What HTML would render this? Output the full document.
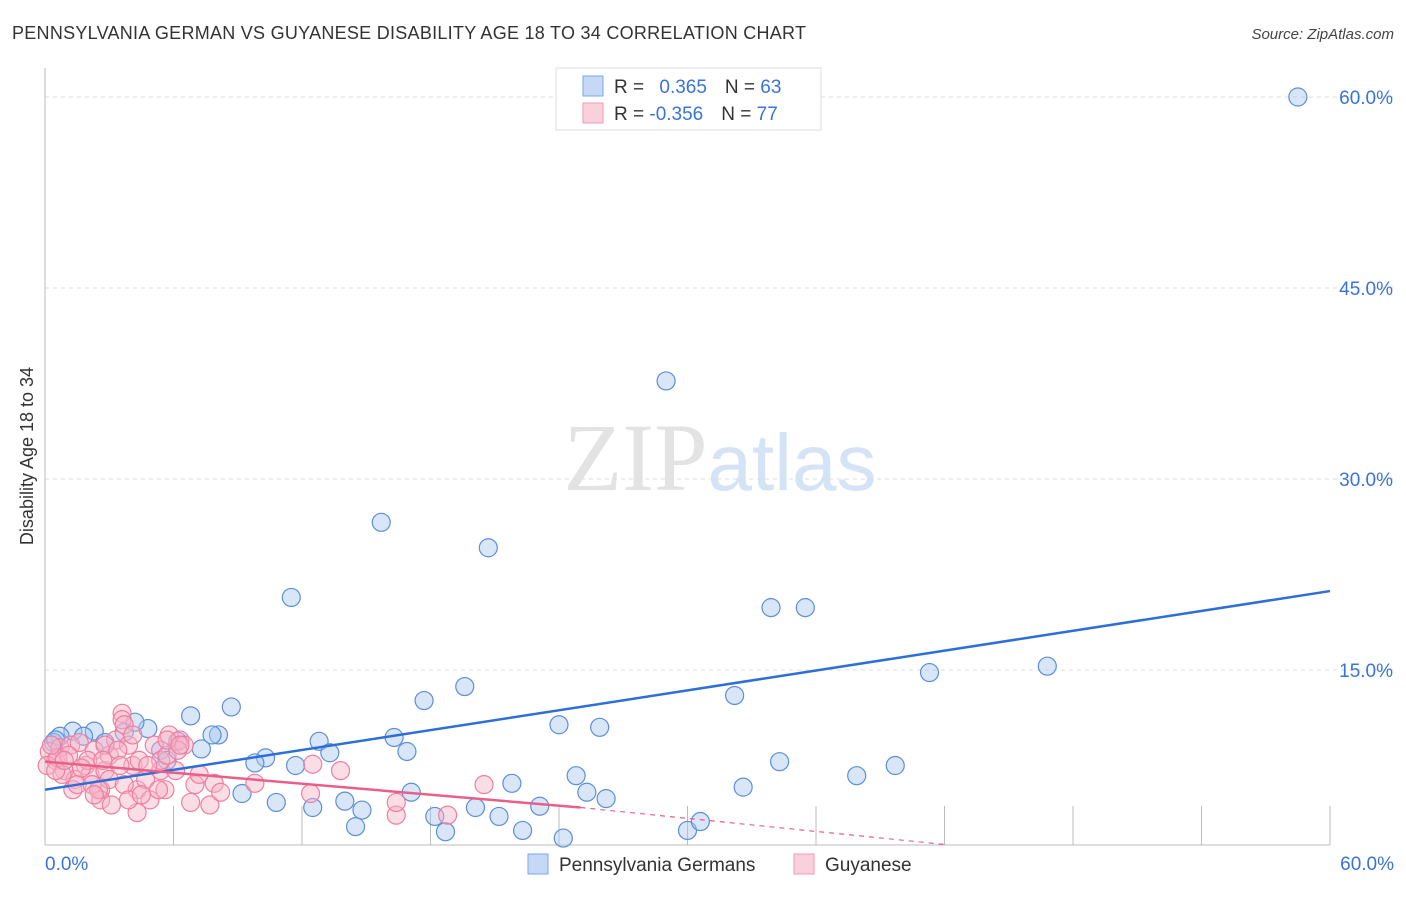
<!DOCTYPE html>
<html><head><meta charset="utf-8"><style>
body{margin:0;background:#fff;font-family:"Liberation Sans",sans-serif}
</style></head><body>
<svg id="chart" width="1406" height="892" xmlns="http://www.w3.org/2000/svg" font-family="Liberation Sans, sans-serif">
<text x="12" y="39" font-size="18" fill="#333" textLength="794">PENNSYLVANIA GERMAN VS GUYANESE DISABILITY AGE 18 TO 34 CORRELATION CHART</text>
<text x="1394" y="39" font-size="15" fill="#444" text-anchor="end" font-style="italic">Source: ZipAtlas.com</text>
<text x="720" y="490" font-size="96" text-anchor="middle" fill="#e3e3e3"><tspan font-family="Liberation Serif, serif">ZIP</tspan><tspan fill="#d4e3f5" font-size="80">atlas</tspan></text>
<text transform="translate(33,456) rotate(-90)" font-size="18" fill="#333" text-anchor="middle">Disability Age 18 to 34</text>
<g id="grid"></g><g id="axes"></g><g id="marks"></g>
<g>
<rect x="556" y="68" width="265" height="62" fill="#fff" stroke="#ddd"/>
<rect x="583" y="76" width="20" height="20" fill="#c5d9f7" stroke="#7aa6e8"/>
<rect x="583" y="103" width="20" height="20" fill="#fbd0dd" stroke="#f09ab4"/>
<text x="614" y="93" font-size="19" fill="#333">R = <tspan fill="#3a74d6" dx="10">0.365</tspan><tspan dx="18" fill="#333">N = </tspan><tspan fill="#3a74d6">63</tspan></text>
<text x="614" y="120" font-size="19" fill="#333">R = <tspan fill="#3a74d6">-0.356</tspan><tspan dx="18" fill="#333">N = </tspan><tspan fill="#3a74d6">77</tspan></text>
</g>
<g>
<rect x="528" y="854" width="20" height="20" fill="#c5d9f7" stroke="#7aa6e8"/>
<text x="559" y="871" font-size="19" fill="#333">Pennsylvania Germans</text>
<rect x="794" y="854" width="20" height="20" fill="#fbd0dd" stroke="#f09ab4"/>
<text x="825" y="871" font-size="19" fill="#333">Guyanese</text>
</g>
</svg>
<script>
const yTicks=[15,30,45,60];
const xTickLabels=["0.0%","60.0%"];
const blueX=[58.5,29.0,15.7,20.7,11.5,33.9,35.5,46.8,41.3,19.6,32.2,17.7,8.7,6.8,24.0,25.9,4.8,1.3,2.3,3.7,0.7,1.8,4.2,8.1,7.8,6.2,12.8,16.3,0.4,2.8,5.4,7.3,13.3,16.9,10.3,9.8,11.7,5.7,34.3,37.9,39.7,24.8,21.8,32.6,25.3,17.1,26.2,9.2,10.8,14.0,14.8,12.5,20.1,23.1,18.2,21.2,14.5,18.7,22.3,24.2,30.0,30.6,0.5];
const blueY=[60.0,37.7,26.6,24.6,20.7,19.9,19.9,15.3,14.8,13.7,13.0,12.6,12.1,11.4,10.7,10.5,10.4,10.2,10.2,10.1,9.8,9.8,10.9,9.9,9.9,9.4,9.4,9.7,9.3,9.3,8.7,8.8,8.5,8.6,8.1,7.7,7.5,7.9,7.8,6.7,7.5,6.7,6.1,5.8,5.4,5.4,4.9,5.3,4.6,4.7,4.0,4.2,4.2,4.3,3.5,3.5,2.7,2.3,2.4,1.8,2.4,3.1,9.5];
const pinkX=[0.2,0.5,0.7,0.9,1.2,0.1,0.6,1.4,1.6,1.9,2.1,2.3,2.6,2.8,3.0,3.3,3.6,3.6,3.9,4.1,4.3,4.4,4.7,4.9,5.1,5.4,5.6,5.8,6.1,6.3,6.5,6.8,7.0,7.2,7.7,7.9,8.2,3.0,2.6,3.1,3.7,4.3,9.8,12.5,13.8,16.4,12.4,16.4,18.8,20.5,5.4,0.8,1.1,1.3,1.5,2.0,2.2,2.5,2.8,3.4,3.9,4.5,4.8,5.3,5.7,6.2,0.3,0.5,0.9,1.7,2.3,2.7,3.5,3.7,4.1,5.7,6.3];
const pinkY=[8.6,7.9,8.9,7.1,9.1,7.5,8.1,6.4,9.3,7.5,6.8,8.7,5.6,7.1,8.3,9.5,11.6,11.1,9.1,7.5,5.6,7.9,6.4,4.8,9.1,7.1,5.6,9.9,7.1,9.5,9.1,4.6,6.0,6.8,4.4,6.1,5.4,6.4,4.8,4.4,6.0,3.8,6.1,7.6,7.1,3.6,5.3,4.6,3.6,6.0,7.9,6.8,8.3,5.6,6.0,7.9,6.0,5.6,9.1,8.7,4.8,5.2,7.5,5.6,8.3,8.7,9.1,7.1,7.9,7.3,5.2,7.9,7.5,10.7,9.9,9.5,9.1];
const blueLine=[[0,5.6],[60,21.2]];
const pinkLine=[[0,7.8],[25,4.2]];
const pinkDash=[[25,4.2],[42,1.3]];
const NS="http://www.w3.org/2000/svg";
const sx=v=>45+v*1285/60, sy=v=>861-v*191/15;
function mk(t,a,p){const e=document.createElementNS(NS,t);for(const k in a)e.setAttribute(k,a[k]);p.appendChild(e);return e;}
const grid=document.getElementById('grid'),axes=document.getElementById('axes'),marks=document.getElementById('marks');
yTicks.forEach(t=>{const l=mk('line',{x1:45,x2:1394,y1:sy(t),y2:sy(t),stroke:'#ddd','stroke-dasharray':'4,4'},grid);


const tx=mk('text',{x:1393,y:sy(t)+7,'font-size':19,fill:'#3a74d6','text-anchor':'end'},grid);tx.textContent=t.toFixed(1)+'%';

});
const ax=mk('line',{x1:45,x2:45,y1:68,y2:845,stroke:'#bbb'},axes);


const bx=mk('line',{x1:45,x2:1330,y1:845,y2:845,stroke:'#bbb'},axes);


for(let i=1;i<=10;i++){const t=mk('line',{x1:sx(i*6),x2:sx(i*6),y1:806,y2:845,stroke:'#bbb'},axes);

}
[[0,'start',45],[1,'end',1394]].forEach(([i,a,x])=>{const t=mk('text',{x:x,y:870,'font-size':19,fill:'#3a74d6','text-anchor':a},axes);t.textContent=xTickLabels[i];

});
function dots(X,Y,fill,stroke,name){X.forEach((x,i)=>{const c=mk('circle',{cx:sx(x),cy:sy(Y[i]),r:9,fill:fill,'fill-opacity':0.45,stroke:stroke,'stroke-width':1.2},marks);

});}
dots(blueX,blueY,'#a8c8f0','#5b8fd8','pennsylvania-german-point');
dots(pinkX,pinkY,'#f7b3c8','#ee7fa0','guyanese-point');
function line(p,col,w,dash,name){const l=mk('line',{x1:sx(p[0][0]),y1:sy(p[0][1]),x2:sx(p[1][0]),y2:sy(p[1][1]),stroke:col,'stroke-width':w},marks);if(dash)l.setAttribute('stroke-dasharray',dash);

}
line(blueLine,'#2d6fd6',2.5,null,'blue-trend-line');
line(pinkLine,'#e8608a',2.5,null,'pink-trend-line');
line(pinkDash,'#e8608a',1.2,'5,5','pink-trend-extension');
</script>
</body></html>
